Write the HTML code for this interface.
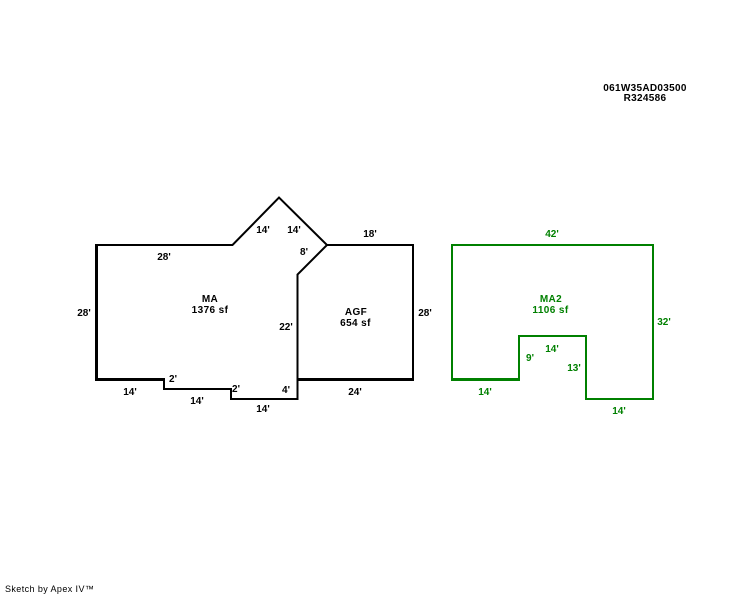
<!DOCTYPE html>
<html>
<head>
<meta charset="utf-8">
<style>
html,body{margin:0;padding:0;background:#fff;}
svg{display:block;}
text{font-family:"Liberation Sans",sans-serif;font-weight:bold;font-size:10px;text-anchor:middle;}
.k{fill:#000;}
.g{fill:#008000;}
.a{letter-spacing:.4px;}
line,polyline{fill:none;stroke-linecap:butt;stroke-linejoin:miter;}
</style>
</head>
<body>
<svg width="744" height="595" viewBox="0 0 744 595" xmlns="http://www.w3.org/2000/svg">
<g stroke="#000" stroke-width="2">
<polyline points="95,245 232.500,245 279,197.500 327,245 297.500,274.500 297.500,399 231,399 231,389 164,389 164,378"/>
<polyline points="327,245 413,245 413,381"/>
<line x1="96.500" y1="244" x2="96.500" y2="381" stroke-width="3"/>
<line x1="95" y1="379.500" x2="165" y2="379.500" stroke-width="3"/>
<line x1="297" y1="379.500" x2="414" y2="379.500" stroke-width="3"/>
</g>
<g stroke="#008000" stroke-width="2">
<polyline points="451,245 653,245 653,399 586,399 586,336 519,336 519,381"/>
<line x1="452" y1="245" x2="452" y2="381"/>
<line x1="451" y1="379.500" x2="520" y2="379.500" stroke-width="3"/>
</g>
<g class="k">
<text x="645" y="91" style="letter-spacing:.3px">061W35AD03500</text>
<text x="645" y="101" style="letter-spacing:.3px">R324586</text>
<text x="164" y="260">28'</text>
<text x="84" y="316">28'</text>
<text x="263" y="233">14'</text>
<text x="294" y="233">14'</text>
<text x="304" y="255">8'</text>
<text x="370" y="237">18'</text>
<text x="210" y="302" class="a">MA</text>
<text x="210" y="313" class="a">1376 sf</text>
<text x="286" y="330">22'</text>
<text x="356" y="315" class="a">AGF</text>
<text x="355.500" y="326" class="a">654 sf</text>
<text x="425" y="316">28'</text>
<text x="130" y="395">14'</text>
<text x="173" y="382">2'</text>
<text x="197" y="404">14'</text>
<text x="236" y="392">2'</text>
<text x="263" y="412">14'</text>
<text x="286" y="393">4'</text>
<text x="355" y="395">24'</text>
</g>
<g class="g">
<text x="552" y="237">42'</text>
<text x="551" y="302" class="a">MA2</text>
<text x="550.500" y="313" class="a">1106 sf</text>
<text x="664" y="325">32'</text>
<text x="552" y="352">14'</text>
<text x="530" y="361">9'</text>
<text x="574" y="371">13'</text>
<text x="485" y="395">14'</text>
<text x="619" y="414">14'</text>
</g>
<text x="5" y="592" style="text-anchor:start;font-weight:normal;font-size:9px;letter-spacing:.4px" class="k">Sketch by Apex IV™</text>
</svg>
</body>
</html>
